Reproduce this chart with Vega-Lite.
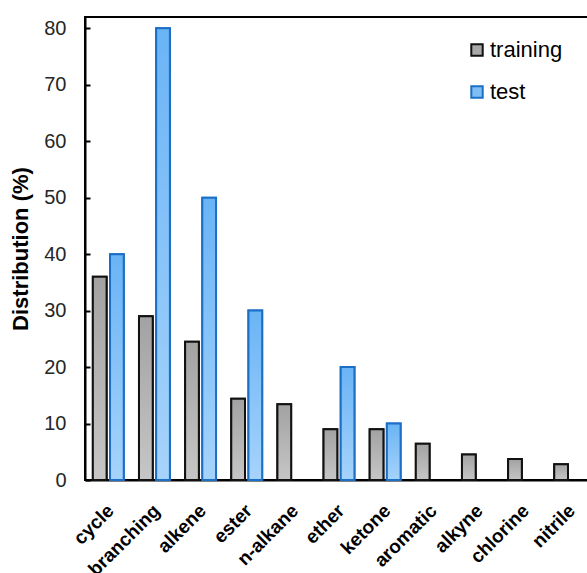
{
  "$schema": "https://vega.github.io/schema/vega-lite/v6.json",
  "autosize": "none",
  "width": 508,
  "height": 463,
  "padding": {"left": 85, "top": 17, "right": 0, "bottom": 93},
  "background": "white",
  "config": {
    "view": {"stroke": "black", "strokeWidth": 2},
    "font": "Liberation Sans"
  },
  "data": {
    "values": [
      {"group": "cycle", "set": "training", "value": 36.0},
      {"group": "cycle", "set": "test", "value": 40},
      {"group": "branching", "set": "training", "value": 29.0},
      {"group": "branching", "set": "test", "value": 80},
      {"group": "alkene", "set": "training", "value": 24.5},
      {"group": "alkene", "set": "test", "value": 50},
      {"group": "ester", "set": "training", "value": 14.4},
      {"group": "ester", "set": "test", "value": 30},
      {"group": "n-alkane", "set": "training", "value": 13.4},
      {"group": "n-alkane", "set": "test", "value": 0},
      {"group": "ether", "set": "training", "value": 9.0},
      {"group": "ether", "set": "test", "value": 20},
      {"group": "ketone", "set": "training", "value": 9.0},
      {"group": "ketone", "set": "test", "value": 10},
      {"group": "aromatic", "set": "training", "value": 6.4},
      {"group": "aromatic", "set": "test", "value": 0},
      {"group": "alkyne", "set": "training", "value": 4.5},
      {"group": "alkyne", "set": "test", "value": 0},
      {"group": "chlorine", "set": "training", "value": 3.7},
      {"group": "chlorine", "set": "test", "value": 0},
      {"group": "nitrile", "set": "training", "value": 2.8},
      {"group": "nitrile", "set": "test", "value": 0}
    ]
  },
  "transform": [{"filter": "datum.value > 0"}],
  "encoding": {
    "x": {
      "field": "group",
      "type": "nominal",
      "sort": null,
      "scale": {"paddingInner": 0.33, "paddingOuter": 0.17},
      "axis": {
        "title": null,
        "labelAngle": -45,
        "labelFont": "Liberation Sans",
        "labelFontWeight": "bold",
        "labelFontSize": 19,
        "labelColor": "black",
        "ticks": false,
        "labelPadding": 21,
        "labelOffset": -4,
        "domainColor": "black",
        "domainWidth": 2
      }
    },
    "xOffset": {
      "field": "set",
      "type": "nominal",
      "scale": {"domain": ["training", "test"], "paddingInner": 0.2}
    },
    "y": {
      "field": "value",
      "type": "quantitative",
      "scale": {"domain": [0, 82], "nice": false},
      "axis": {
        "title": "Distribution (%)",
        "titleFont": "Liberation Sans",
        "titleFontSize": 22,
        "titleFontWeight": "bold",
        "titleColor": "black",
        "titlePadding": 11,
        "values": [0, 10, 20, 30, 40, 50, 60, 70, 80],
        "grid": false,
        "tickSize": -5,
        "tickColor": "black",
        "tickWidth": 2,
        "labelFont": "Liberation Sans",
        "labelFontSize": 20,
        "labelColor": "#262626",
        "labelPadding": 24,
        "domainColor": "black",
        "domainWidth": 2
      }
    }
  },
  "layer": [
    {
      "mark": {"type": "bar", "strokeWidth": 2},
      "encoding": {
        "fill": {
          "field": "set",
          "type": "nominal",
          "scale": {"domain": ["training", "test"], "range": ["#a8a8a8", "#7fbdf5"]},
          "legend": {
            "title": null,
            "orient": "none",
            "legendX": 381,
            "legendY": 22,
            "labelFont": "Liberation Sans",
            "labelFontSize": 22,
            "labelColor": "black",
            "symbolType": "square",
            "symbolSize": 130,
            "symbolStrokeWidth": 2,
            "rowPadding": 20,
            "labelOffset": 2
          }
        },
        "stroke": {
          "field": "set",
          "type": "nominal",
          "scale": {"domain": ["training", "test"], "range": ["#111111", "#1b6fc6"]}
        }
      }
    },
    {
      "mark": {"type": "bar", "strokeWidth": 2},
      "encoding": {
        "fill": {
          "condition": {
            "test": "datum.set === 'training'",
            "value": {"gradient": "linear", "x1": 0, "y1": 0, "x2": 0, "y2": 1, "stops": [{"offset": 0, "color": "#a2a2a2"}, {"offset": 1, "color": "#c6c6c6"}]}
          },
          "value": {"gradient": "linear", "x1": 0, "y1": 0, "x2": 0, "y2": 1, "stops": [{"offset": 0, "color": "#6ab4f5"}, {"offset": 1, "color": "#a6d3fb"}]}
        },
        "stroke": {
          "condition": {"test": "datum.set === 'training'", "value": "#111111"},
          "value": "#1b6fc6"
        }
      }
    }
  ]
}
